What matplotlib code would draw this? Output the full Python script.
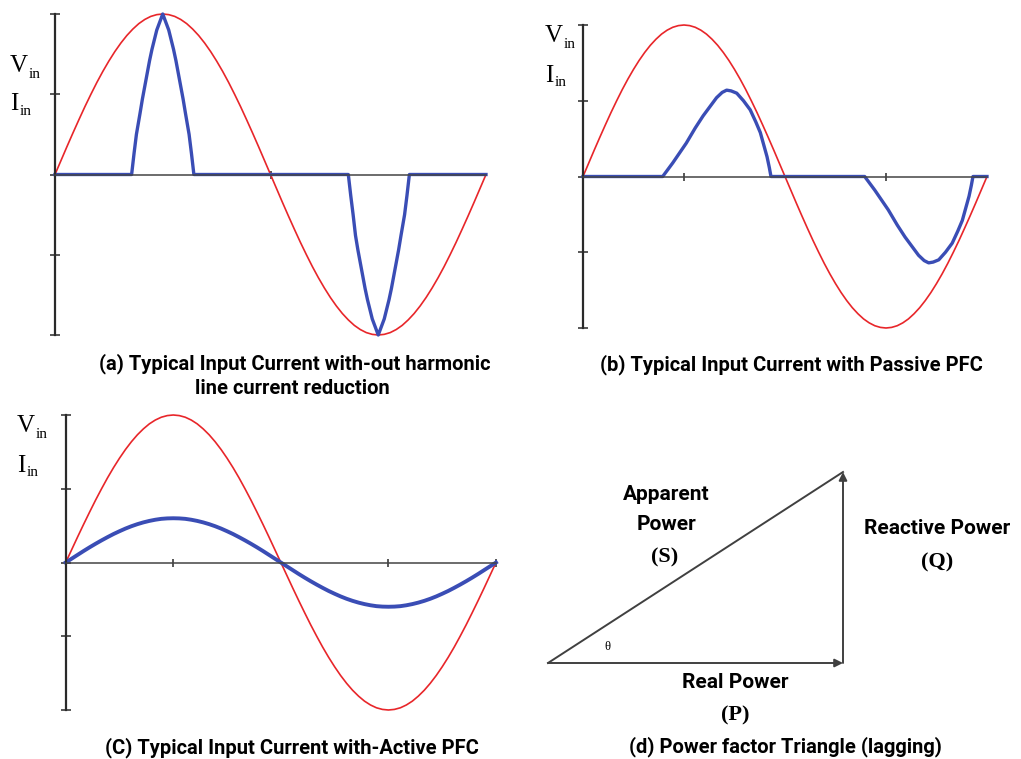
import matplotlib
matplotlib.use("Agg")
import matplotlib.pyplot as plt

W, H = 1021, 759

# supply voltage, one full cycle sampled every 5 degrees
angle_deg = list(range(0, 361, 5))
vin = [0.000, 0.087, 0.174, 0.259, 0.342, 0.423, 0.500, 0.574, 0.643, 0.707,
       0.766, 0.819, 0.866, 0.906, 0.940, 0.966, 0.985, 0.996, 1.000,
       0.996, 0.985, 0.966, 0.940, 0.906, 0.866, 0.819, 0.766, 0.707,
       0.643, 0.574, 0.500, 0.423, 0.342, 0.259, 0.174, 0.087, 0.000,
       -0.087, -0.174, -0.259, -0.342, -0.423, -0.500, -0.574, -0.643, -0.707,
       -0.766, -0.819, -0.866, -0.906, -0.940, -0.966, -0.985, -0.996, -1.000,
       -0.996, -0.985, -0.966, -0.940, -0.906, -0.866, -0.819, -0.766, -0.707,
       -0.643, -0.574, -0.500, -0.423, -0.342, -0.259, -0.174, -0.087, 0.000]

# (a) no harmonic reduction: narrow current spikes at the voltage peaks
iin_a_deg = [0, 64, 66, 68, 71, 73, 75, 77, 79, 81, 83, 85, 87.5, 90,
             92.5, 95, 97, 99, 101, 103, 105, 107, 109, 112, 114, 116,
             245, 247, 249, 251, 253, 255, 257, 259, 261, 263, 265, 267.5, 270,
             272.5, 275, 277, 279, 281, 283, 285, 287, 289, 292, 294, 296, 360]
iin_a = [0, 0, 0.13, 0.25, 0.38, 0.47, 0.55, 0.63, 0.71, 0.78, 0.84, 0.90, 0.95, 1.00,
         0.95, 0.90, 0.84, 0.78, 0.71, 0.63, 0.55, 0.47, 0.38, 0.25, 0.13, 0,
         0, -0.13, -0.25, -0.38, -0.47, -0.55, -0.63, -0.71, -0.78, -0.84, -0.90, -0.95, -1.00,
         -0.95, -0.90, -0.84, -0.78, -0.71, -0.63, -0.55, -0.47, -0.38, -0.25, -0.13, 0, 0]

# (b) passive PFC: wider, lagging current pulses
iin_b_deg = [0, 71, 80, 92, 100, 107, 114, 119, 124, 128, 132, 137, 143, 149,
             154, 158, 161, 164, 166, 167.5,
             251, 260, 272, 280, 287, 294, 299, 304, 308, 312, 317, 323, 329,
             334, 338, 341, 344, 346, 347.5, 360]
iin_b = [0, 0, 0.09, 0.22, 0.32, 0.40, 0.47, 0.52, 0.555, 0.57, 0.565, 0.55, 0.50, 0.44,
         0.36, 0.29, 0.21, 0.13, 0.06, 0,
         0, -0.09, -0.22, -0.32, -0.40, -0.47, -0.52, -0.555, -0.57, -0.565, -0.55,
         -0.50, -0.44, -0.36, -0.29, -0.21, -0.13, -0.06, 0, 0]

# (c) active PFC: sinusoidal current in phase with the voltage
iin_c = [0.000, 0.026, 0.052, 0.078, 0.103, 0.127, 0.150, 0.172, 0.193, 0.212,
         0.230, 0.246, 0.260, 0.272, 0.282, 0.290, 0.296, 0.299, 0.300,
         0.299, 0.296, 0.290, 0.282, 0.272, 0.260, 0.246, 0.230, 0.212,
         0.193, 0.172, 0.150, 0.127, 0.103, 0.078, 0.052, 0.026, 0.000,
         -0.026, -0.052, -0.078, -0.103, -0.127, -0.150, -0.172, -0.193, -0.212,
         -0.230, -0.246, -0.260, -0.272, -0.282, -0.290, -0.296, -0.299, -0.300,
         -0.299, -0.296, -0.290, -0.282, -0.272, -0.260, -0.246, -0.230, -0.212,
         -0.193, -0.172, -0.150, -0.127, -0.103, -0.078, -0.052, -0.026, 0.000]

# (d) power triangle sides
real_power = 1.0
reactive_power = 0.65

RED = "#e8262a"
BLUE = "#3a4db5"
AXIS = "#2a2a2a"

SERIF = ["Liberation Serif", "DejaVu Serif"]
SANS = ["Roboto", "DejaVu Sans"]


def px_rect(x0, y0, x1, y1):
    """pixel box (top-left origin) -> figure fraction rect"""
    return [x0 / W, 1 - y1 / H, (x1 - x0) / W, (y1 - y0) / H]


def px(x, y):
    return x / W, 1 - y / H


def wave_axes(fig, rect, xticks):
    ax = fig.add_axes(rect)
    ax.set_xlim(0, 360)
    ax.set_ylim(-1, 1)
    for s in ["top", "right"]:
        ax.spines[s].set_visible(False)
    ax.spines["bottom"].set_position(("data", 0))
    ax.spines["left"].set_linewidth(1.6)
    ax.spines["left"].set_color(AXIS)
    ax.spines["bottom"].set_linewidth(1.1)
    ax.spines["bottom"].set_color("#444444")
    ax.set_yticks([-1, -0.5, 0, 0.5, 1])
    ax.set_xticks(xticks)
    ax.tick_params(axis="y", direction="inout", length=6.5, width=1.1,
                   color=AXIS, labelleft=False)
    ax.tick_params(axis="x", direction="inout", length=5.8, width=1.1,
                   color=AXIS, labelbottom=False)
    ax.patch.set_alpha(0)
    return ax


def vi_label(fig, vpos, vsub, ipos, isub):
    fig.text(*px(*vpos), "V", family=SERIF, fontsize=18)
    fig.text(*px(*vsub), "in", family=SERIF, fontsize=11)
    fig.text(*px(*ipos), "I", family=SERIF, fontsize=18)
    fig.text(*px(*isub), "in", family=SERIF, fontsize=11)


fig = plt.figure(figsize=(W / 100, H / 100), dpi=100)
fig.patch.set_facecolor("white")

# (a)
ax_a = wave_axes(fig, px_rect(55, 14, 486, 335), [180])
ax_a.plot(angle_deg, vin, color=RED, lw=1.2, clip_on=False)
ax_a.plot(iin_a_deg, iin_a, color=BLUE, lw=2.4, clip_on=False)
vi_label(fig, (10, 72), (29, 78), (10, 110), (20, 115))

# (b)
ax_b = wave_axes(fig, px_rect(583, 25, 987, 328), [90, 270])
ax_b.plot(angle_deg, vin, color=RED, lw=1.2, clip_on=False)
ax_b.plot(iin_b_deg, iin_b, color=BLUE, lw=2.4, clip_on=False)
vi_label(fig, (545, 42), (564, 48), (545, 82), (555, 86))

# (c)
ax_c = wave_axes(fig, px_rect(65.7, 415, 496, 710), [90, 270, 360])
ax_c.plot(angle_deg, vin, color=RED, lw=1.2, clip_on=False)
ax_c.plot(angle_deg, iin_c, color=BLUE, lw=2.8, clip_on=False)
vi_label(fig, (17, 432), (36, 438), (17, 472), (27, 476))

# (d) power factor triangle
ax_d = fig.add_axes(px_rect(548, 472, 843, 663))
ax_d.set_xlim(0, real_power)
ax_d.set_ylim(0, reactive_power)
ax_d.axis("off")
arrow = dict(arrowstyle="-|>", color="#404040", lw=1.4, mutation_scale=12,
             shrinkA=0, shrinkB=0)
ax_d.annotate("", xy=(real_power, 0), xytext=(0, 0), arrowprops=arrow,
              annotation_clip=False)
ax_d.annotate("", xy=(real_power, reactive_power), xytext=(real_power, 0),
              arrowprops=arrow, annotation_clip=False)
ax_d.plot([0, real_power], [0, reactive_power], color="#404040", lw=1.4,
          clip_on=False)

fig.text(*px(607, 647), "θ", family=SERIF, fontsize=9, ha="center", va="center")
lab = dict(family=SANS, fontweight="bold", fontsize=15, ha="center", va="center")
ser = dict(family=SERIF, fontweight="bold", fontsize=16, ha="center", va="center")
fig.text(*px(666, 494), "Apparent", **lab)
fig.text(*px(666, 525), "Power", **lab)
fig.text(*px(665, 557), "(S)", **ser)
fig.text(*px(937, 528), "Reactive Power", **lab)
fig.text(*px(937, 562), "(Q)", **ser)
fig.text(*px(735, 683), "Real Power", **lab)
fig.text(*px(735, 715), "(P)", **ser)

# captions
cap = dict(family=SANS, fontweight="bold", fontsize=14.5, ha="center", va="center")
fig.text(*px(295, 364), "(a) Typical Input Current with-out harmonic", **cap)
fig.text(*px(292, 389), "line current reduction", **cap)
fig.text(*px(791, 365), "(b) Typical Input Current with Passive PFC", **cap)
fig.text(*px(292, 748), "(C) Typical Input Current with-Active PFC", **cap)
fig.text(*px(785, 747), "(d) Power factor Triangle (lagging)", **cap)

fig.savefig("out.png", dpi=100, facecolor="white")
